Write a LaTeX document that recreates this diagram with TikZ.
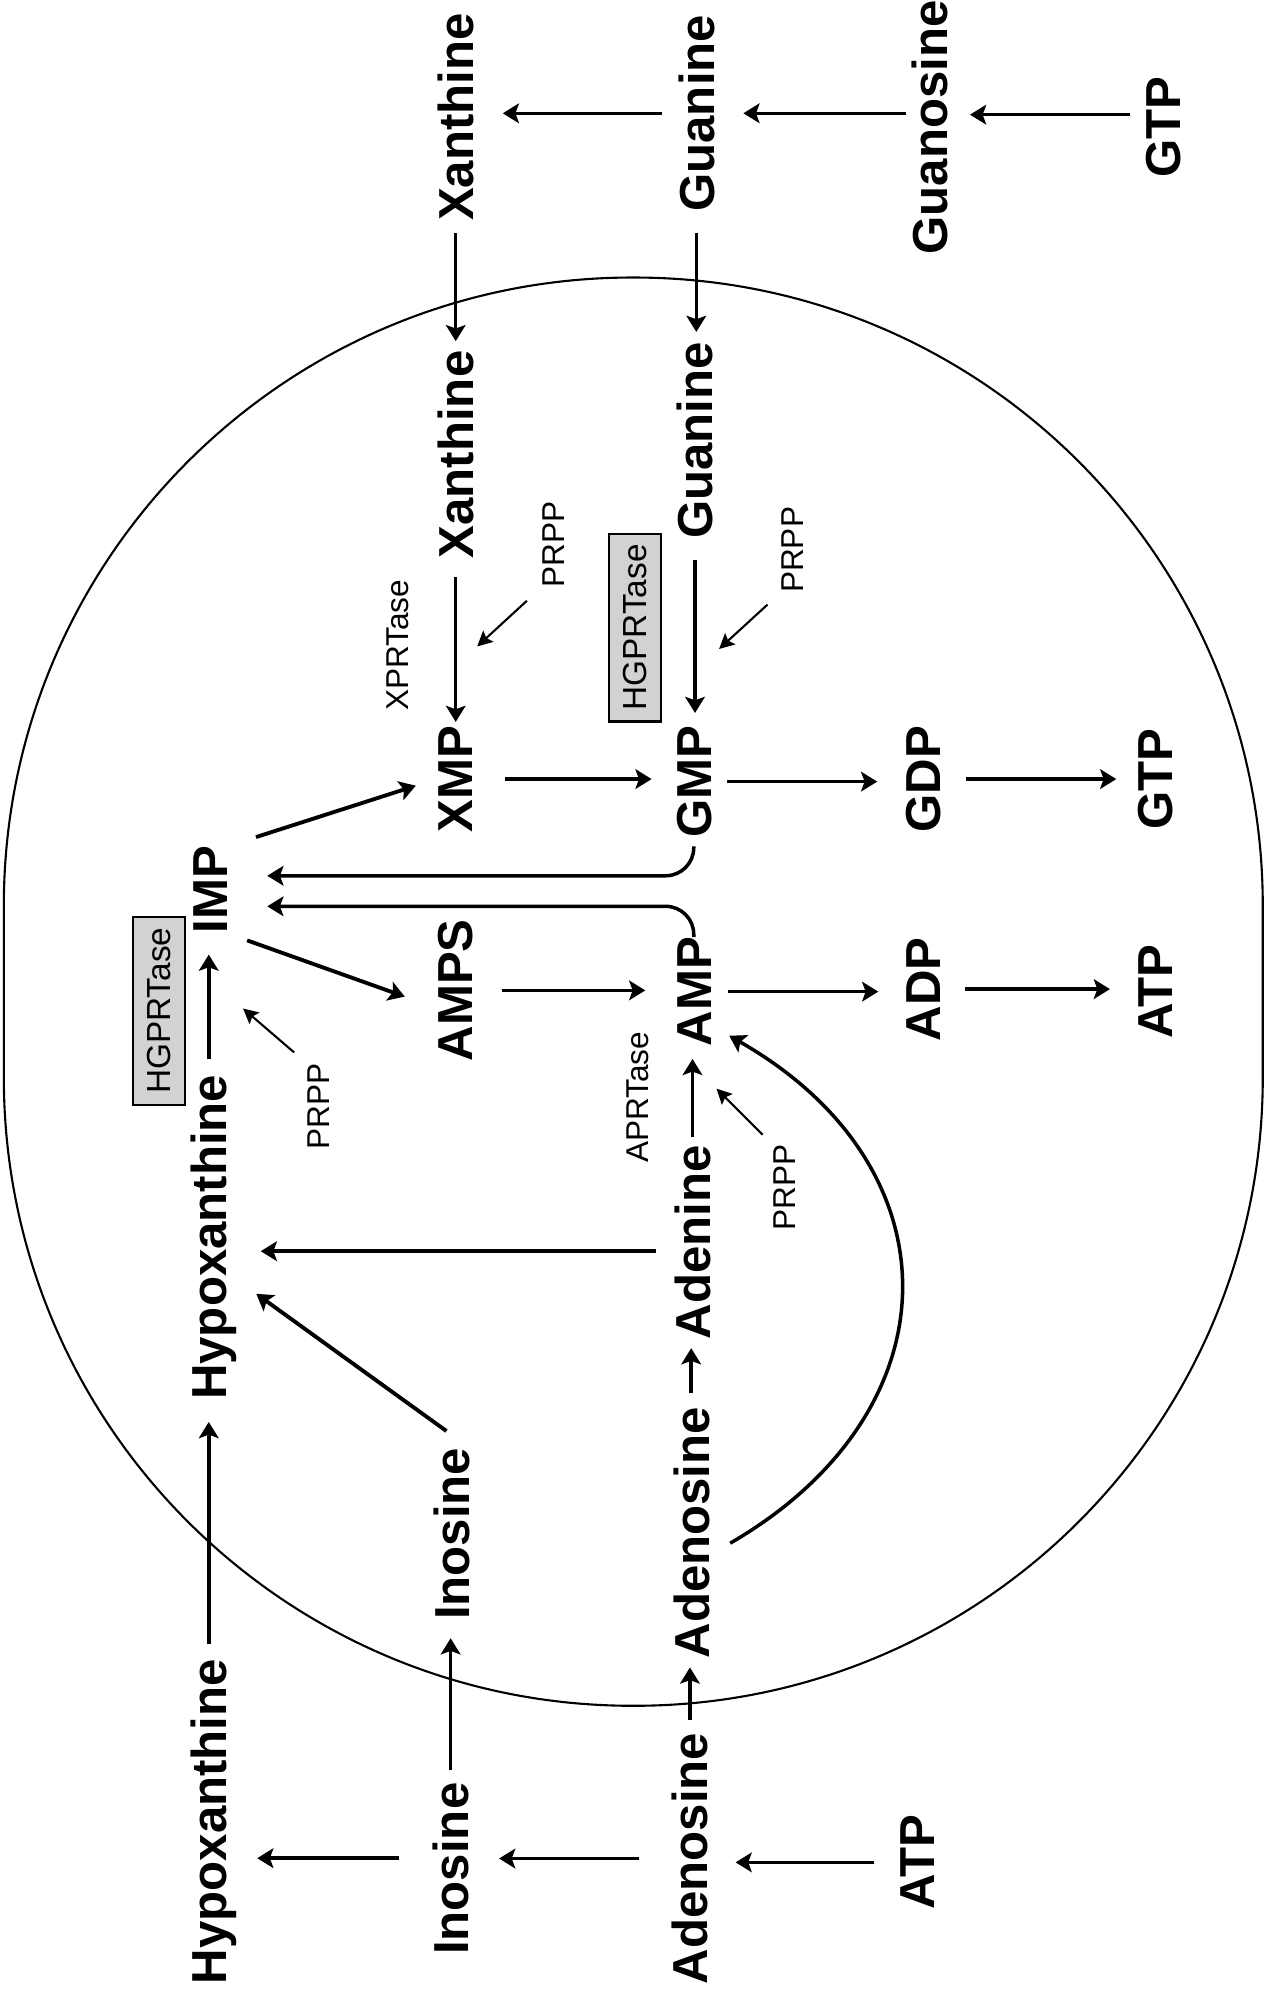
\documentclass[tikz,border=0pt]{standalone}
\usepackage{fontspec}
\setmainfont{Liberation Sans}
\usetikzlibrary{arrows.meta}

\begin{document}
\begin{tikzpicture}[x=0.012734cm,y=-0.012734cm,
    mol/.style={rotate=90,font=\fontsize{14}{16}\selectfont\bfseries,inner sep=0pt,outer sep=0pt,text height=10.2pt,text depth=0pt},
    lbl/.style={rotate=90,font=\fontsize{9}{10}\selectfont,inner sep=0pt,outer sep=0pt,text height=6.6pt,text depth=0pt},
    enz/.style={rotate=90,draw,line width=0.6pt,fill=gray!35,font=\fontsize{9.5}{10}\selectfont,minimum width=1.88cm,minimum height=0.52cm,inner sep=0pt},
    conv/.style={line width=1pt,-{Stealth[length=4.6pt,width=5.6pt,inset=1pt]}},
    feed/.style={line width=0.6pt,-{Stealth[length=4.3pt,width=4.3pt,inset=0.8pt]}}]
  \useasboundingbox (0,0) rectangle (995,1568);

  % Cell outline
  \draw[line width=0.6pt,rounded corners=6.29cm] (3,218) rectangle (992,1340);

  % Outside the cell
  \node[mol] (xanout) at (358,92) {Xanthine};
  \node[mol] (guaout) at (547,89) {Guanine};
  \node[mol] (guo) at (730,100) {Guanosine};
  \node[mol] (gtpout) at (913,100) {GTP};
  \node[mol] (hypout) at (164,1431) {Hypoxanthine};
  \node[mol] (inoout) at (354,1468) {Inosine};
  \node[mol] (adoout) at (542,1460) {Adenosine};
  \node[mol] (atpout) at (720,1463) {ATP};

  % Inside the cell
  \node[mol] (xanin) at (358,357) {Xanthine};
  \node[mol] (guain) at (546,346) {Guanine};
  \node[mol] (xmp) at (357,612) {XMP};
  \node[mol] (gmp) at (545,614) {GMP};
  \node[mol] (gdp) at (725,612) {GDP};
  \node[mol] (gtpin) at (907,612) {GTP};
  \node[mol] (imp) at (165,699) {IMP};
  \node[mol] (amps) at (357,778) {AMPS};
  \node[mol] (amp) at (545,779) {AMP};
  \node[mol] (adp) at (725,777) {ADP};
  \node[mol] (atpin) at (907,779) {ATP};
  \node[mol] (hypin) at (164,972) {Hypoxanthine};
  \node[mol] (ade) at (544,976) {Adenine};
  \node[mol] (inoin) at (355,1205) {Inosine};
  \node[mol] (adoin) at (543,1204) {Adenosine};

  % Enzymes and PRPP
  \node[lbl] (xprt) at (312,507) {XPRTase};
  \node[enz] (hgprtg) at (499,493) {HGPRTase};
  \node[enz] (hgprti) at (125,794) {HGPRTase};
  \node[lbl] (aprt) at (500,862) {APRTase};
  \node[lbl] (prppx) at (434,428) {PRPP};
  \node[lbl] (prppg) at (622,432) {PRPP};
  \node[lbl] (prppi) at (250,869) {PRPP};
  \node[lbl] (prppa) at (616,933) {PRPP};

  % Breakdown outside
  \draw[conv,shorten <=4.7pt,shorten >=8.3pt] (guaout.north) -- (guaout.north -| xanout.south);
  \draw[conv,shorten <=1.5pt,shorten >=8.3pt] ([yshift=4pt]guo.north) -- ([yshift=4pt]guo.north -| guaout.south);
  \draw[conv,shorten <=4pt,shorten >=6.5pt] ([yshift=3.6pt]gtpout.north) -- ([yshift=3.6pt]gtpout.north -| guo.south);
  \draw[conv,shorten <=9.7pt,shorten >=8.7pt] ([yshift=3pt]inoout.north) -- ([yshift=3pt]inoout.north -| hypout.south);
  \draw[conv,shorten <=9.4pt,shorten >=8.7pt] (adoout.north) -- (adoout.north -| inoout.south);
  \draw[conv,shorten <=6.9pt,shorten >=7.9pt] (atpout.north) -- (atpout.north -| adoout.south);

  % Across the membrane
  \draw[conv,shorten <=3.4pt,shorten >=2.7pt] (xanout.west) -- (xanout.west |- xanin.east);
  \draw[conv,shorten <=6.1pt,shorten >=2.9pt] (guaout.west) -- (guaout.west |- guain.east);
  \draw[conv,shorten <=4.2pt,shorten >=6.3pt] (hypout.east) -- (hypout.east |- hypin.west);
  \draw[conv,shorten <=3.6pt,shorten >=5.2pt] (inoout.east) -- (inoout.east |- inoin.west);
  \draw[conv,shorten <=3.7pt,shorten >=2.6pt] (adoout.east) -- (adoout.east |- adoin.west);

  % Salvage
  \draw[conv,shorten <=5.2pt,shorten >=1.1pt] (xanin.west) -- (xanin.west |- xmp.east);
  \draw[conv,shorten <=6.1pt,shorten >=3.6pt] (guain.west) -- (guain.west |- gmp.east);
  \draw[conv,shorten <=4.5pt,shorten >=6pt] (hypin.east) -- (hypin.east |- imp.west);
  \draw[conv,shorten <=4.1pt,shorten >=2.5pt] (adoin.east) -- (adoin.east |- ade.west);
  \draw[conv,shorten <=2.5pt,shorten >=3.6pt] (ade.east) -- (ade.east |- amp.west);
  \draw[conv,shorten <=5.4pt,shorten >=9.7pt] ([yshift=-2.5pt]ade.north) -- ([yshift=-2.5pt]ade.north -| hypin.south);
  \draw[conv,line width=1.1pt,shorten <=8.2pt,shorten >=10.4pt] (inoin.south east) -- ([yshift=-10pt]hypin.south);

  % IMP branches
  \draw[conv,line width=1.1pt,shorten <=8.4pt,shorten >=6.2pt] (imp.south east) -- (xmp.north);
  \draw[conv,line width=1.1pt,shorten <=5.8pt,shorten >=9.6pt] (imp.south west) -- ([yshift=-5pt]amps.north);
  \draw[conv,rounded corners=8pt,shorten <=2.5pt,shorten >=11.2pt] (gmp.west) |- ([yshift=4pt]imp.south);
  \draw[conv,rounded corners=8pt,shorten >=11.2pt] (amp.east) |- ([yshift=-4.7pt]imp.south);

  % Nucleotide chains
  \draw[conv,shorten <=9.4pt,shorten >=6.9pt] (xmp.south) -- (xmp.south -| gmp.north);
  \draw[conv,shorten <=4.3pt,shorten >=7.9pt] (gmp.south) -- (gmp.south -| gdp.north);
  \draw[conv,shorten <=7.2pt,shorten >=5.8pt] (gdp.south) -- (gdp.south -| gtpin.north);
  \draw[conv,shorten <=8.3pt,shorten >=8.7pt] (amps.south) -- (amps.south -| amp.north);
  \draw[conv,shorten <=4.7pt,shorten >=7.6pt] (amp.south) -- (amp.south -| adp.north);
  \draw[conv,shorten <=6.9pt,shorten >=7.6pt] (adp.south) -- (adp.south -| atpin.north);

  % Adenosine kinase
  \draw[conv] ([shift={(6pt,-3pt)}]adoin.south) .. controls (752,1109) and (754,917) .. ([shift={(5pt,3pt)}]amp.south west);

  % PRPP inputs
  \draw[feed,shorten <=5.4pt] (prppx.north west) -- ++(-50,46);
  \draw[feed,shorten <=4.9pt] (prppg.north west) -- ++(-48,44);
  \draw[feed,shorten <=4.7pt] (prppi.north east) -- ++(-50,-43);
  \draw[feed,shorten <=4pt] (prppa.north east) -- ++(-44,-44);
\end{tikzpicture}
\end{document}
